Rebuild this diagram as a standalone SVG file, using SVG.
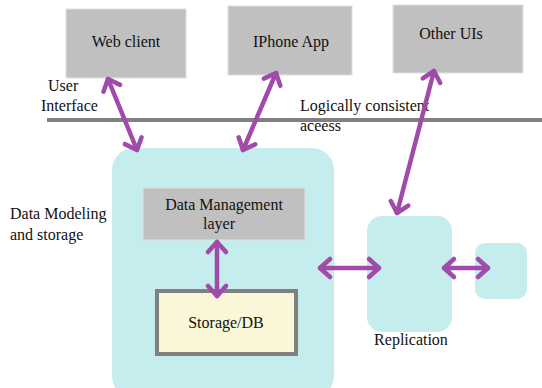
<svg xmlns="http://www.w3.org/2000/svg" width="542" height="388" viewBox="0 0 542 388">
<style>
text{font-family:"Liberation Serif","Times New Roman",serif;font-size:16px;fill:#111}
.ui{fill:#c0c0c0;stroke:#e0e0e0;stroke-width:1}
.cy{fill:#c5eded}
.arr{stroke:#a04aaa;stroke-width:4.5;fill:none;stroke-linecap:round;marker-start:url(#h);marker-end:url(#h)}
</style>
<defs>
<marker id="h" viewBox="-14 -14 28 28" markerWidth="28" markerHeight="28" markerUnits="userSpaceOnUse" refX="0" refY="0" orient="auto-start-reverse">
<path d="M-10,-9 L0,0 L-10,9" fill="none" stroke="#a04aaa" stroke-width="4.5" stroke-linecap="round" stroke-linejoin="round"/>
</marker>
</defs>
<g id="divider"><line x1="47" y1="120" x2="542" y2="120" stroke="#808080" stroke-width="4"/></g>
<g id="labels">
<text x="48" y="91">User</text>
<text x="41" y="111">Interface</text>
<text x="300" y="111">Logically consistent</text>
<text x="300" y="131">aceess</text>
<text x="10" y="219">Data Modeling</text>
<text x="10" y="240">and storage</text>
</g>
<g id="web"><rect class="ui" x="66" y="9" width="120" height="69"/><text x="126" y="47" text-anchor="middle">Web client</text></g>
<g id="iphone"><rect class="ui" x="228" y="6" width="124" height="69"/><text x="291" y="47" text-anchor="middle">IPhone App</text></g>
<g id="other"><rect class="ui" x="393" y="5" width="130" height="68"/><text x="451" y="39" text-anchor="middle">Other UIs</text></g>
<g id="datamodel"><rect class="cy" x="112" y="148" width="222" height="250" rx="22"/></g>
<g id="dml"><rect class="ui" x="143" y="188" width="162" height="52" stroke="none"/><text x="224" y="210" text-anchor="middle">Data Management</text><text x="219" y="229" text-anchor="middle">layer</text></g>
<g id="storage"><rect x="157" y="291" width="139" height="63" fill="#faf6d8" stroke="#808080" stroke-width="4"/><text x="226" y="328" text-anchor="middle">Storage/DB</text></g>
<g id="replication"><rect class="cy" x="367" y="216" width="85" height="116" rx="15"/><text x="411" y="345" text-anchor="middle">Replication</text></g>
<g id="replica2"><rect class="cy" x="475" y="243" width="52" height="56" rx="10"/></g>
<g id="connectors">
<line class="arr" x1="108" y1="79" x2="137" y2="150"/>
<line class="arr" x1="276" y1="73" x2="243" y2="150"/>
<line class="arr" x1="434" y1="71" x2="397" y2="213"/>
<line class="arr" x1="217" y1="242" x2="217" y2="296"/>
<line class="arr" x1="320" y1="268" x2="379" y2="268"/>
<line class="arr" x1="444" y1="268" x2="488" y2="268"/>
</g>
</svg>
